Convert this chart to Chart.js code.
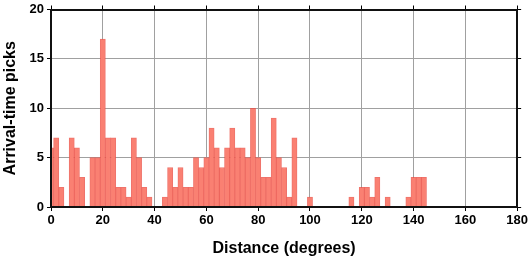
<!DOCTYPE html>
<html>
<head>
<meta charset="utf-8">
<script src="https://cdn.jsdelivr.net/npm/chart.js@4.4.0/dist/chart.umd.min.js"></script>
<style>
  html, body { margin: 0; padding: 0; background: #fff; }
  #wrap { width: 531px; height: 258px; }
</style>
</head>
<body>
<div id="wrap"><canvas id="hist" width="531" height="258"></canvas></div>
<script>
// bin centres (degrees), bins are 2 degrees wide; only non-empty bins listed
var binCenters = [0, 2, 4, 8, 10, 12, 16, 18, 20, 22, 24, 26, 28, 30, 32, 34, 36, 38,
    44, 46, 48, 50, 52, 54, 56, 58, 60, 62, 64, 66, 68, 70, 72, 74, 76, 78, 80, 82, 84,
    86, 88, 90, 92, 94, 100, 116, 120, 122, 124, 126, 130, 138, 140, 142, 144];
var pickCounts = [6, 7, 2, 7, 6, 3, 5, 5, 17, 7, 7, 2, 2, 1, 7, 5, 2, 1,
    1, 4, 2, 4, 2, 2, 5, 4, 5, 8, 6, 4, 6, 8, 6, 6, 5, 10, 5, 3, 3,
    9, 5, 4, 1, 7, 1, 1, 2, 2, 1, 3, 1, 1, 3, 3, 3];
var xTicks = [0, 20, 40, 60, 80, 100, 120, 140, 160, 180];
var yTicks = [0, 5, 10, 15, 20];

var points = binCenters.map(function (c, i) { return { x: c, y: pickCounts[i] }; });

var labelFont = { family: 'Liberation Sans', weight: 'bold', size: 13, lineHeight: 1 };
var titleFont = { family: 'Liberation Sans', weight: 'bold', size: 16, lineHeight: 1.2 };

var ctx = document.getElementById('hist').getContext('2d');
var myChart = new Chart(ctx, {
    type: 'bar',
    data: {
        datasets: [{
            label: 'Arrival-time picks',
            data: points,
            backgroundColor: 'rgb(250, 128, 114)',
            borderColor: 'rgba(235, 80, 70, 0.8)',
            borderWidth: 1,
            barPercentage: 1,
            categoryPercentage: 1,
            grouped: false
        }]
    },
    options: {
        responsive: false,
        animation: false,
        devicePixelRatio: 1,
        layout: { padding: { left: 0, right: 8, top: 1, bottom: 0 } },
        plugins: {
            legend: { display: false },
            tooltip: { enabled: false }
        },
        scales: {
            x: {
                type: 'linear',
                position: 'bottom',
                offset: false,
                min: 0,
                max: 180,
                afterBuildTicks: function (s) { s.ticks = xTicks.map(function (v) { return { value: v }; }); },
                afterFit: function (s) { s.height = 51; },
                ticks: { color: '#000', font: labelFont, padding: 3, maxRotation: 0 },
                grid: { offset: false, color: '#a0a0a0', lineWidth: 1, tickLength: 4, tickColor: '#000' },
                border: { display: true, color: '#111', width: 2, z: 1 },
                title: { display: true, text: 'Distance (degrees)', color: '#000', font: titleFont, padding: { top: 0, bottom: 0 } }
            },
            x2: {
                type: 'linear',
                position: 'top',
                offset: false,
                min: 0,
                max: 180,
                afterBuildTicks: function (s) { s.ticks = xTicks.map(function (v) { return { value: v }; }); },
                afterFit: function (s) { s.height = 4; },
                ticks: { display: false },
                grid: { offset: false, drawOnChartArea: false, tickLength: 4, tickColor: '#000' },
                border: { display: true, color: '#111', width: 2, z: 1 }
            },
            y: {
                position: 'left',
                min: 0,
                max: 20,
                afterBuildTicks: function (s) { s.ticks = yTicks.map(function (v) { return { value: v }; }); },
                afterFit: function (s) { s.width = 51; },
                ticks: { color: '#000', font: labelFont, padding: 3 },
                grid: { color: '#a0a0a0', lineWidth: 1, tickLength: 4, tickColor: '#000' },
                border: { display: true, color: '#111', width: 2, z: 1 },
                title: { display: true, text: 'Arrival-time picks', color: '#000', font: titleFont, padding: { top: 1, bottom: 0 } }
            },
            y2: {
                position: 'right',
                min: 0,
                max: 20,
                afterBuildTicks: function (s) { s.ticks = yTicks.map(function (v) { return { value: v }; }); },
                afterFit: function (s) { s.width = 4; },
                ticks: { display: false },
                grid: { drawOnChartArea: false, tickLength: 4, tickColor: '#000' },
                border: { display: true, color: '#111', width: 2, z: 1 }
            }
        }
    }
});
</script>
</body>
</html>
